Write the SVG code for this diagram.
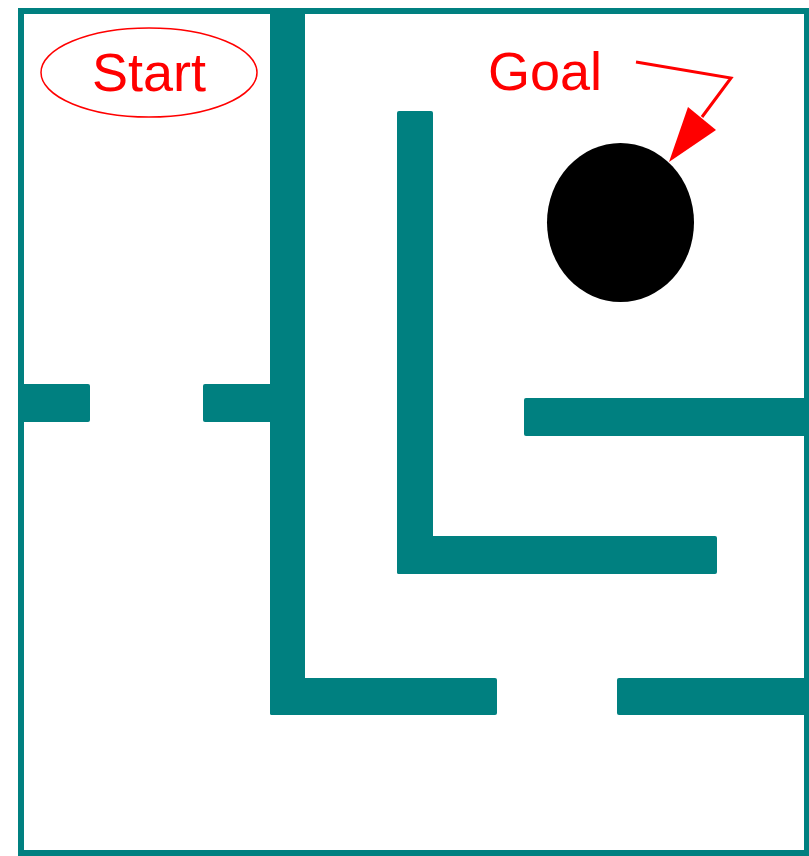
<svg xmlns="http://www.w3.org/2000/svg" width="809" height="856" viewBox="0 0 809 856">
<style>
.wall{fill:#008080;}
.lbl{font-family:"Liberation Sans",Arial,sans-serif;font-size:54px;fill:#ff0000;}
</style>
<rect x="0" y="0" width="809" height="856" fill="#ffffff"/>
<g id="maze">
<rect x="21" y="11" width="786" height="842" fill="none" stroke="#008080" stroke-width="6"/>
<rect class="wall" x="270" y="8" width="35" height="707" rx="2"/>
<rect class="wall" x="18" y="384" width="72" height="38" rx="2"/>
<rect class="wall" x="203" y="384" width="80" height="38" rx="2"/>
<rect class="wall" x="397" y="111" width="36" height="463" rx="2"/>
<rect class="wall" x="397" y="536" width="320" height="38" rx="2"/>
<rect class="wall" x="524" y="398" width="290" height="38" rx="2"/>
<rect class="wall" x="270" y="678" width="227" height="37" rx="2"/>
<rect class="wall" x="617" y="678" width="200" height="37" rx="2"/>
</g>
<g id="start">
<ellipse cx="149" cy="72.5" rx="108" ry="44.5" fill="none" stroke="#ff0000" stroke-width="1.5"/>
<text class="lbl" x="149" y="91" text-anchor="middle">Start</text>
</g>
<g id="goal">
<ellipse cx="620.5" cy="222.5" rx="73.5" ry="79.5" fill="#000000"/>
<text class="lbl" x="488" y="90">Goal</text>
</g>
<g id="connectors">
<polyline points="636,62 731,78 702,117" fill="none" stroke="#ff0000" stroke-width="3"/>
<polygon points="669,162 688,107 716,130" fill="#ff0000"/>
</g>
</svg>
